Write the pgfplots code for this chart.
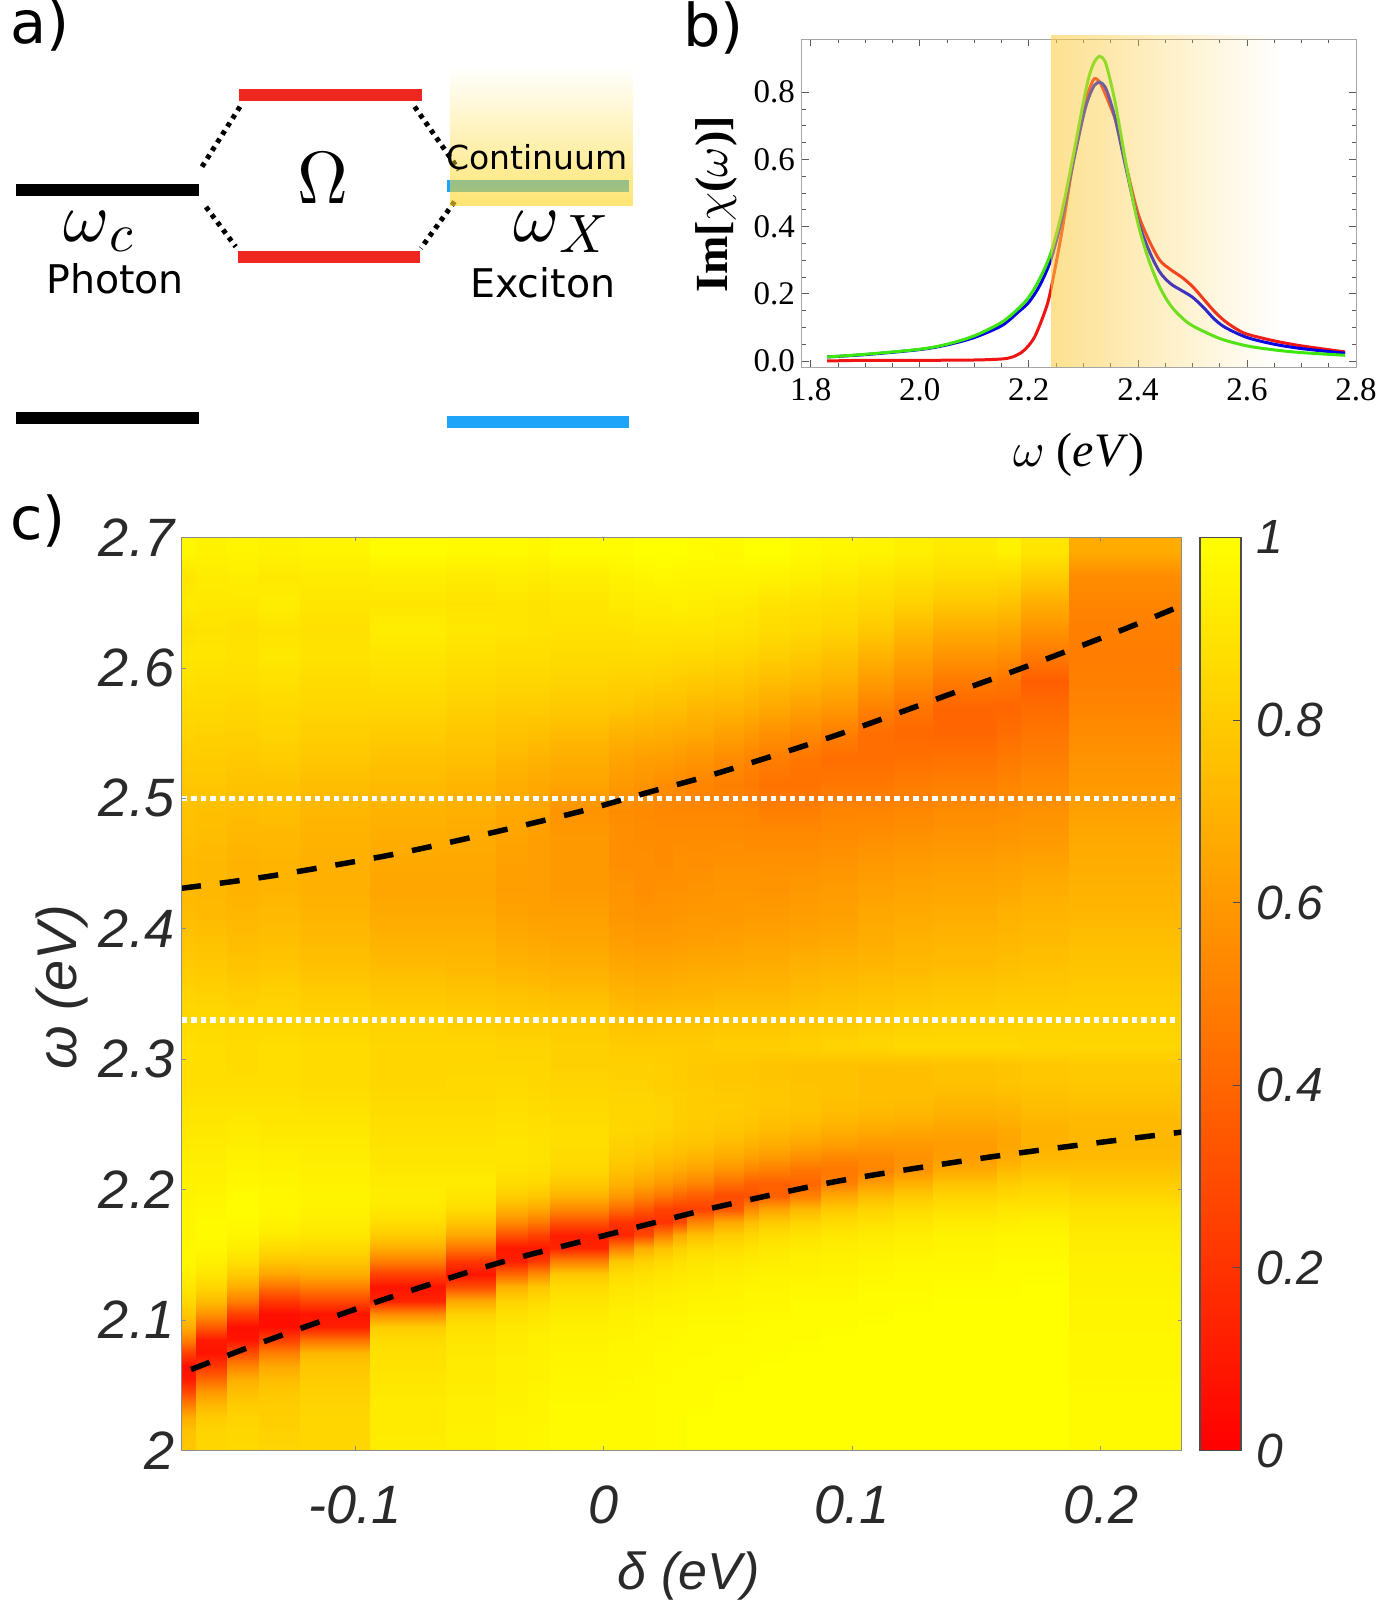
\documentclass[border=0pt]{standalone}
\usepackage{fontspec}
\usepackage{pgfplots}
\usepackage{pgfplotstable}
\pgfplotsset{compat=1.18}
\usetikzlibrary{fadings}
% math letters at any size
\DeclareFontFamily{OML}{cmm}{\skewchar\font127}
\DeclareFontShape{OML}{cmm}{m}{it}{<-> cmmi10}{}
\DeclareFontShape{OT1}{cmr}{m}{n}{<-> cmr10}{}
\newfontfamily\hfont{Liberation Sans}
\newfontfamily\tfont{Liberation Serif}
\newfontfamily\dfont{DejaVu Sans}
\definecolor{lvlred}{RGB}{238,40,32}
\definecolor{lvlblue}{RGB}{30,165,250}
\definecolor{contin}{RGB}{255,215,40}
\definecolor{bandgold}{RGB}{251,205,70}
\definecolor{curvegreen}{RGB}{60,230,15}
\definecolor{curveblue}{RGB}{0,0,230}
\definecolor{curvered}{RGB}{240,20,20}
\definecolor{txtc}{RGB}{42,42,42}

% heat map of panel c: one line for each detuning band, values x100
% going up in omega: 2.005 to 2.295 in steps of .01, then 2.31 to 2.69 in steps of .02
\pgfplotstableread[header=false]{
78 76 68 50 28 10 6 25 50 68 78 85 90 94 97 97 96 96 96 95 95 94 93 92 91 90 89 88 87 87 88 85 83 80 77 74 73 73 75 76 78 80 83 85 88 90 88 92 90 97
84 83 80 72 60 40 22 8 10 35 58 74 84 90 94 97 98 98 97 96 95 94 93 92 91 90 89 88 87 87 87 85 82 79 76 73 72 72 74 75 78 80 82 85 87 90 89 91 92 95
85 84 83 80 75 68 52 30 8 6 25 50 68 80 88 93 96 98 99 99 97 96 95 93 92 91 89 88 87 86 86 84 81 77 74 72 70 70 72 74 76 79 82 84 87 89 88 91 93 96
83 82 81 80 78 74 66 50 26 6 6 22 45 65 78 86 92 95 97 97 96 95 94 92 91 90 89 88 87 87 87 84 82 78 75 73 71 71 72 75 76 80 83 85 88 91 89 93 91 95
84 84 84 83 82 80 78 72 45 12 8 28 50 68 78 85 90 93 95 96 95 94 93 92 91 90 88 87 86 86 86 83 80 76 73 71 69 69 70 72 74 78 81 84 86 89 88 90 92 96
93 92 92 92 91 90 89 88 86 80 55 14 8 26 50 68 80 87 91 93 92 91 90 89 88 87 86 85 84 84 84 82 78 74 70 67 65 66 68 70 73 76 80 84 87 90 93 90 93 99
95 95 94 94 93 92 92 91 90 88 82 66 30 8 22 46 66 78 86 90 92 91 90 89 88 87 86 85 85 84 84 81 77 73 70 67 65 66 67 69 71 75 78 82 85 88 91 89 92 98
96 96 96 95 95 94 94 93 92 91 88 83 70 40 12 10 32 55 70 81 86 89 90 90 89 88 87 86 85 84 83 80 76 71 67 64 62 63 64 66 68 72 76 80 84 87 90 90 93 98
97 97 96 96 96 95 95 94 94 92 90 86 78 55 22 10 26 48 66 78 85 88 89 89 88 87 86 85 84 84 83 80 75 70 66 63 62 62 62 65 66 70 75 80 84 87 89 89 92 97
98 98 98 98 97 97 96 96 95 94 92 90 86 78 50 14 12 32 54 70 79 84 86 87 87 86 85 84 83 82 82 79 74 69 65 63 60 60 60 58 64 68 73 79 83 86 89 90 93 99
98 98 98 98 98 97 97 97 96 95 94 92 90 86 78 50 15 20 42 60 70 76 80 82 84 84 84 83 82 82 80 76 71 66 62 59 58 56 56 55 60 64 70 78 82 86 89 92 95 99
98 98 98 98 98 98 97 97 97 96 95 93 91 88 82 68 28 18 34 52 65 73 78 81 83 84 84 83 82 82 80 75 70 65 61 58 56 56 55 54 58 62 69 76 82 86 90 93 96 100
99 99 99 99 99 98 98 98 97 97 96 94 92 90 85 76 50 20 26 46 60 69 75 79 82 83 83 82 81 81 80 76 70 65 61 58 57 55 55 53 55 62 68 75 81 86 90 93 97 100
99 99 99 99 99 99 98 98 98 97 96 95 93 91 88 81 66 28 24 40 56 66 73 77 80 81 81 81 80 80 80 76 71 66 62 59 57 57 55 53 54 60 67 75 80 85 90 94 96 100
100 100 100 99 99 99 99 98 98 98 97 96 94 92 90 85 75 52 26 36 52 63 71 76 79 80 80 80 79 79 80 76 71 67 62 60 58 56 55 53 52 58 66 72 79 85 90 93 96 99
100 100 100 100 100 99 99 99 98 98 97 96 95 93 91 87 80 66 34 30 44 58 67 73 77 79 80 79 78 78 81 77 72 67 63 60 59 57 55 53 50 55 63 71 78 84 89 92 96 98
100 100 100 100 100 100 99 99 99 98 98 97 96 94 92 89 84 74 54 32 38 52 63 70 75 78 79 79 78 78 81 77 72 68 64 61 59 57 54 52 48 52 60 69 76 83 88 91 96 100
100 100 100 100 100 100 100 99 99 99 98 97 96 95 93 91 87 79 64 38 38 50 60 68 73 76 78 78 77 77 81 77 72 68 64 61 58 57 54 50 45 49 57 66 74 81 86 89 95 100
100 100 100 100 100 100 100 100 99 99 99 98 97 95 94 92 89 83 72 50 40 46 56 65 71 75 77 77 76 76 82 78 74 70 65 62 60 57 54 50 45 46 54 63 72 79 85 88 94 98
100 100 100 100 100 100 100 100 100 99 99 98 97 96 95 93 91 86 79 66 50 47 53 62 68 73 75 76 76 76 83 79 75 71 66 63 61 58 55 52 47 43 50 60 69 76 83 87 92 97
100 100 100 100 100 100 100 100 100 100 99 99 98 97 96 94 92 88 83 74 61 52 54 60 66 71 74 75 75 75 84 80 76 72 68 66 63 60 56 52 47 43 43 51 61 70 79 85 90 96
100 100 100 100 100 100 100 100 100 100 100 99 98 98 97 95 93 90 86 79 69 58 57 60 65 70 73 75 75 75 85 81 77 73 70 67 64 61 57 53 49 44 41 46 55 64 73 82 88 94
100 100 100 100 100 100 100 100 100 100 100 100 99 98 97 96 95 92 88 83 76 67 61 61 64 68 71 74 76 76 85 82 78 74 71 68 65 62 58 55 50 45 40 40 48 58 68 78 86 92
100 100 100 100 100 100 100 100 100 100 100 100 99 99 98 97 96 93 90 85 80 73 67 65 66 69 72 75 77 77 85 82 79 75 72 70 66 63 59 56 52 48 43 40 46 56 66 76 85 95
100 100 100 100 100 100 100 100 100 100 100 100 100 99 98 97 96 94 90 86 82 76 72 70 70 72 74 76 78 78 84 82 79 76 73 71 68 64 60 57 54 50 46 42 37 48 58 68 80 90
98 98 98 98 98 97 97 97 97 96 96 96 95 95 94 93 92 90 88 84 80 76 73 72 72 73 75 77 79 79 84 82 80 77 75 72 70 68 66 63 60 58 55 52 50 49 50 52 55 67
}\heat

% grid of the heat map: each band gets its two edges, so it stays flat across and runs smoothly upward
\def\heatcoords{}
\foreach \rr/\yy in {0/2.00,0/2.005,1/2.015,2/2.025,3/2.035,4/2.045,5/2.055,6/2.065,7/2.075,8/2.085,9/2.095,10/2.105,11/2.115,12/2.125,13/2.135,14/2.145,15/2.155,16/2.165,17/2.175,18/2.185,19/2.195,20/2.205,21/2.215,22/2.225,23/2.235,24/2.245,25/2.255,26/2.265,27/2.275,28/2.285,29/2.295,30/2.31,31/2.33,32/2.35,33/2.37,34/2.39,35/2.41,36/2.43,37/2.45,38/2.47,39/2.49,40/2.51,41/2.53,42/2.55,43/2.57,44/2.59,45/2.61,46/2.63,47/2.65,48/2.67,49/2.69,49/2.70}{%
\foreach \j/\xa/\xb in {0/-0.1698/-0.1642,1/-0.1642/-0.1515,2/-0.1515/-0.1386,3/-0.1386/-0.1221,4/-0.1221/-0.0940,5/-0.0940/-0.0636,6/-0.0636/-0.0435,7/-0.0435/-0.0304,8/-0.0304/-0.0216,9/-0.0216/0.0022,10/0.0022/0.0122,11/0.0122/0.0203,12/0.0203/0.0279,13/0.0279/0.0336,14/0.0336/0.0444,15/0.0444/0.0565,16/0.0565/0.0625,17/0.0625/0.0750,18/0.0750/0.0874,19/0.0874/0.1023,20/0.1023/0.1168,21/0.1168/0.1325,22/0.1325/0.1582,23/0.1582/0.1679,24/0.1679/0.1872,25/0.1872/0.2325}{%
\pgfplotstablegetelem{\j}{[index]\rr}\of\heat
\xdef\heatcoords{\heatcoords (\xa,\yy) [\pgfplotsretval] (\xb,\yy) [\pgfplotsretval]}%
}}

\begin{document}
\begin{tikzpicture}
\path[use as bounding box] (0,0) rectangle (1386pt,1600pt);

% panel a, axis units are the pixels of the page
\begin{axis}[
at={(0pt,0pt)}, anchor=south west,
scale only axis, width=1386pt, height=1600pt,
xmin=0, xmax=1386, ymin=0, ymax=1600, y dir=reverse,
hide axis, clip=false
]
\addplot[black, line width=12pt] coordinates {(16,190) (198.7,190)};
\addplot[black, line width=12pt] coordinates {(16,417.7) (198.7,417.7)};
\addplot[lvlred, line width=12pt] coordinates {(239,94.7) (421.7,94.7)};
\addplot[lvlred, line width=12pt] coordinates {(237.8,256.7) (420,256.7)};
\addplot[lvlblue, line width=12pt] coordinates {(447,185.7) (629,185.7)};
\addplot[lvlblue, line width=12pt] coordinates {(447,422) (629,422)};
\addplot[black, line width=5pt, dash pattern=on 4.5pt off 5pt] coordinates {(202,166.7) (240,106.7)};
\addplot[black, line width=5pt, dash pattern=on 4.5pt off 5pt] coordinates {(414.6,106.7) (459,170)};
\addplot[black, line width=5pt, dash pattern=on 4.5pt off 5pt] coordinates {(206,207) (235.7,246.7)};
\addplot[black, line width=5pt, dash pattern=on 4.5pt off 5pt] coordinates {(454.5,201.7) (420.9,248.3)};
\fill[contin, fill opacity=.66, path fading=north] (axis cs:450,66) rectangle (axis cs:632.6,206);
\node[anchor=base west, inner sep=0pt, font=\dfont\fontsize{59}{59}\selectfont] at (axis cs:10,44) {a)};
\node[anchor=base west, inner sep=0pt, font=\dfont\fontsize{59}{59}\selectfont] at (axis cs:683,47) {b)};
\node[anchor=base west, inner sep=0pt, font=\dfont\fontsize{59}{59}\selectfont] at (axis cs:10,540) {c)};
\node[anchor=base west, inner sep=0pt, font=\dfont\fontsize{33}{33}\selectfont] at (axis cs:446,170) {Continuum};
\node[anchor=base west, inner sep=0pt, font=\dfont\fontsize{39.5}{39.5}\selectfont] at (axis cs:46,294) {Photon};
\node[anchor=base west, inner sep=0pt, font=\dfont\fontsize{39.5}{39.5}\selectfont] at (axis cs:470,298) {Exciton};
\node[anchor=base west, inner sep=0pt, font=\fontsize{70}{80}\selectfont] at (axis cs:63,242) {$\omega$\raisebox{-10pt}{\fontsize{54}{60}\selectfont$c$}};
\node[anchor=base west, inner sep=0pt, font=\fontsize{70}{80}\selectfont] at (axis cs:513,242) {$\omega$\raisebox{-11pt}{\fontsize{54}{60}\selectfont$X$}};
\node[anchor=base west, inner sep=0pt, font=\fontsize{74}{80}\selectfont, xscale=.95] at (axis cs:297,204) {$\Omega$};
\end{axis}

% panel b
\begin{axis}[
at={(801.5pt,1232.5pt)}, anchor=south west,
scale only axis, width=554.5pt, height=328pt,
xmin=1.783, xmax=2.8, ymin=-0.0193, ymax=0.957,
xtick={1.8,2.0,2.2,2.4,2.6,2.8},
ytick={0,0.2,0.4,0.6,0.8},
minor x tick num=3, minor y tick num=3,
tick align=inside,
major tick length=7pt, minor tick length=4pt,
axis line style={gray!70, line width=1pt},
every tick/.style={black!65, line width=.8pt},
/pgf/number format/assume math mode=true,
/pgf/number format/fixed, /pgf/number format/fixed zerofill, /pgf/number format/precision=1,
tick label style={font=\tfont\fontsize{33}{33}\selectfont},
xticklabel style={yshift=-8pt},
yticklabel style={xshift=-3pt},
xlabel={$\omega$ (\textit{eV})},
ylabel={\textbf{Im[}$\chi$\textbf{(}$\omega$\textbf{)]}},
xlabel style={font=\tfont\fontsize{48}{48}\selectfont, at={(axis description cs:0.5,-0.268)}, anchor=center},
ylabel style={font=\tfont\fontsize{46}{46}\selectfont, at={(axis description cs:-0.154,0.497)}, anchor=center},
clip=false
]
\addplot[curvered, line width=3pt, smooth] coordinates {
(1.83,0.000) (1.90,0.002) (2.00,0.002) (2.10,0.003) (2.15,0.006) (2.17,0.012) (2.19,0.030) (2.21,0.070)
(2.23,0.150) (2.24,0.210) (2.26,0.380) (2.28,0.580) (2.30,0.750) (2.31,0.805) (2.32,0.840) (2.33,0.830) (2.34,0.795)
(2.35,0.755) (2.36,0.710) (2.38,0.570) (2.40,0.440) (2.42,0.360) (2.44,0.300) (2.46,0.272) (2.48,0.250) (2.50,0.222)
(2.52,0.185) (2.54,0.148) (2.56,0.118) (2.58,0.096) (2.60,0.080) (2.65,0.060) (2.70,0.045) (2.78,0.027)};
\addplot[curveblue, line width=3pt, smooth] coordinates {
(1.83,0.012) (1.90,0.019) (2.00,0.034) (2.05,0.048) (2.10,0.070) (2.15,0.105) (2.18,0.145) (2.20,0.175) (2.22,0.225)
(2.24,0.300) (2.26,0.420) (2.28,0.580) (2.30,0.730) (2.31,0.785) (2.32,0.820) (2.33,0.830) (2.34,0.815) (2.35,0.770) (2.36,0.710)
(2.38,0.560) (2.40,0.420) (2.42,0.330) (2.44,0.265) (2.46,0.230) (2.48,0.210) (2.50,0.190) (2.52,0.160)
(2.54,0.125) (2.56,0.100) (2.60,0.070) (2.65,0.050) (2.70,0.037) (2.78,0.023)};
\addplot[curvegreen, line width=3pt, smooth] coordinates {
(1.83,0.012) (1.90,0.020) (2.00,0.035) (2.05,0.050) (2.10,0.075) (2.15,0.115) (2.18,0.155) (2.20,0.190)
(2.22,0.245) (2.24,0.320) (2.26,0.440) (2.28,0.600) (2.30,0.770) (2.31,0.845) (2.32,0.890) (2.33,0.907) (2.34,0.890) (2.35,0.830)
(2.36,0.755) (2.38,0.570) (2.40,0.410) (2.42,0.300) (2.44,0.220) (2.46,0.165) (2.48,0.130) (2.50,0.105)
(2.55,0.067) (2.60,0.045) (2.65,0.033) (2.70,0.025) (2.78,0.017)};
\fill[bandgold, fill opacity=.6, path fading=east] (axis cs:2.241,-0.0193) rectangle (axis cs:2.66,0.97);
\end{axis}

% panel c
\begin{axis}[
at={(181.6pt,149.5pt)}, anchor=south west,
scale only axis, width=1000pt, height=913pt,
xmin=-0.1698, xmax=0.2325, ymin=2, ymax=2.7,
colormap={ry}{rgb255(0cm)=(255,0,0); rgb255(1cm)=(255,255,0)},
point meta min=0, point meta max=100,
xtick={-0.1,0,0.1,0.2}, xticklabels={-0.1,0,0.1,0.2},
ytick={2,2.1,2.2,2.3,2.4,2.5,2.6,2.7},
yticklabels={2,2.1,2.2,2.3,2.4,2.5,2.6,2.7},
tick align=inside, major tick length=4pt,
axis line style={black!45, line width=1pt},
every tick/.style={black!45, line width=.8pt},
axis on top,
tick label style={font=\hfont\itshape\fontsize{54}{54}\selectfont, text=txtc},
xticklabel style={yshift=-32pt},
yticklabel style={xshift=-4pt},
xlabel={\hfont\itshape δ (eV)},
ylabel={\hfont\itshape ω (eV)},
xlabel style={font=\fontsize{52}{52}\selectfont, text=txtc, at={(axis description cs:0.507,-0.137)}, anchor=center},
ylabel style={font=\fontsize{56}{56}\selectfont, text=txtc, at={(axis description cs:-0.12,0.5077)}, anchor=center}
]
\edef\heatplot{\noexpand\addplot[surf, shader=interp, point meta=explicit, mesh/rows=52, mesh/cols=52] coordinates {\heatcoords};}
\heatplot
\addplot[white, line width=5.5pt, dash pattern=on 5.5pt off 4pt] coordinates {(-0.1698,2.5) (0.2302,2.5)};
\addplot[white, line width=5.5pt, dash pattern=on 5.5pt off 4pt] coordinates {(-0.1698,2.33) (0.2302,2.33)};
\addplot[black, line width=5.5pt, dash pattern=on 20pt off 19pt, smooth] coordinates {
(-0.170,2.431) (-0.1334,2.4406) (-0.0847,2.457) (-0.0453,2.4735) (-0.0095,2.4899) (0.0187,2.505) (0.047,2.520)
(0.0942,2.5488) (0.1395,2.580) (0.1698,2.6009) (0.2075,2.6283) (0.2302,2.646)};
\addplot[black, line width=5.5pt, dash pattern=on 20pt off 19pt, smooth] coordinates {
(-0.166,2.0621) (-0.135,2.0846) (-0.0901,2.1147) (-0.0453,2.1421) (-0.0095,2.160) (0.0211,2.175) (0.047,2.1873)
(0.0942,2.2065) (0.1433,2.2216) (0.1792,2.2312) (0.2325,2.2441)};
\end{axis}

% colour scale of panel c
\begin{axis}[
at={(1200pt,149.5pt)}, anchor=south west,
scale only axis, width=41pt, height=913pt,
xmin=0, xmax=1, ymin=0, ymax=1,
colormap={ry}{rgb255(0cm)=(255,0,0); rgb255(1cm)=(255,255,0)},
point meta min=0, point meta max=1,
xtick=\empty,
ytick={0,0.2,0.4,0.6,0.8,1},
yticklabels={0,0.2,0.4,0.6,0.8,1},
ytick pos=right, yticklabel pos=right,
tick align=inside, major tick length=8pt,
axis line style={black!70, line width=1.2pt},
every tick/.style={black!70, line width=1pt},
axis on top,
yticklabel style={font=\hfont\itshape\fontsize{48}{48}\selectfont, text=txtc, anchor=west, xshift=12pt}
]
\addplot[surf, shader=interp, point meta=explicit, mesh/rows=2, mesh/cols=2] coordinates {
(0,0) [0] (1,0) [0] (0,1) [1] (1,1) [1]};
\end{axis}
\end{tikzpicture}
\end{document}
